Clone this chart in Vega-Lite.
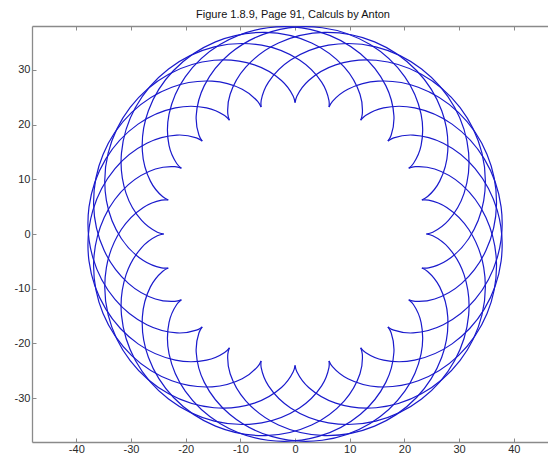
{
"$schema": "https://vega.github.io/schema/vega-lite/v6.json",
"width": 516, "height": 416,
"autosize": {"type": "none"},
"padding": {"left": 32, "top": 26, "right": 0, "bottom": 13},
"title": {"text": "Figure 1.8.9, Page 91, Calculs by Anton", "font": "Liberation Sans", "fontSize": 11, "fontWeight": "normal", "color": "#111111", "anchor": "middle", "offset": 4, "dx": 3},
"config": {"view": {"stroke": null}, "axis": {"domainColor": "#8a8a8a", "domainWidth": 1.3, "tickColor": "#8a8a8a", "tickSize": -4, "labelFont": "Liberation Sans", "labelFontSize": 11, "labelColor": "#2a2a2a", "grid": false, "labelExpr": "replace(datum.label, '\u2212', '-')"}},
"datasets": {"curve": [
{"a":0,"i":0,"x":24,"y":0},{"a":0,"i":1,"x":25.18,"y":0.334},{"a":0,"i":2,"x":28.05,"y":2.488},{"a":0,"i":3,"x":30.899,"y":7.433},{"a":0,"i":4,"x":31.738,"y":14.823},{"a":0,"i":5,"x":29.193,"y":23.1},{"a":0,"i":6,"x":23.133,"y":30.147},{"a":0,"i":7,"x":14.758,"y":34.177},{"a":0,"i":8,"x":6.103,"y":34.493},{"a":0,"i":9,"x":-0.817,"y":31.769},{"a":0,"i":10,"x":-4.857,"y":27.738},{"a":0,"i":11,"x":-6.194,"y":24.408},{"a":0,"i":12,"x":-6.212,"y":23.182},
{"a":1,"i":0,"x":23.182,"y":6.212},{"a":1,"i":1,"x":24.235,"y":6.84},{"a":1,"i":2,"x":26.45,"y":9.663},{"a":1,"i":3,"x":27.922,"y":15.177},{"a":1,"i":4,"x":26.82,"y":22.532},{"a":1,"i":5,"x":22.219,"y":29.869},{"a":1,"i":6,"x":14.542,"y":35.107},{"a":1,"i":7,"x":5.409,"y":36.832},{"a":1,"i":8,"x":-3.032,"y":34.898},{"a":1,"i":9,"x":-9.012,"y":30.475},{"a":1,"i":10,"x":-11.87,"y":25.536},{"a":1,"i":11,"x":-12.3,"y":21.974},{"a":1,"i":12,"x":-12,"y":20.785},
{"a":2,"i":0,"x":20.785,"y":12},{"a":2,"i":1,"x":21.639,"y":12.88},{"a":2,"i":2,"x":23.048,"y":16.18},{"a":2,"i":3,"x":23.042,"y":21.886},{"a":2,"i":4,"x":20.075,"y":28.706},{"a":2,"i":5,"x":13.731,"y":34.602},{"a":2,"i":6,"x":4.96,"y":37.675},{"a":2,"i":7,"x":-4.308,"y":36.977},{"a":2,"i":8,"x":-11.961,"y":32.924},{"a":2,"i":9,"x":-16.593,"y":27.104},{"a":2,"i":10,"x":-18.075,"y":21.594},{"a":2,"i":11,"x":-17.568,"y":18.041},{"a":2,"i":12,"x":-16.971,"y":16.971},
{"a":3,"i":0,"x":16.971,"y":16.971},{"a":3,"i":1,"x":17.568,"y":18.041},{"a":3,"i":2,"x":18.075,"y":21.594},{"a":3,"i":3,"x":16.593,"y":27.104},{"a":3,"i":4,"x":11.961,"y":32.924},{"a":3,"i":5,"x":4.308,"y":36.977},{"a":3,"i":6,"x":-4.96,"y":37.675},{"a":3,"i":7,"x":-13.731,"y":34.602},{"a":3,"i":8,"x":-20.075,"y":28.706},{"a":3,"i":9,"x":-23.042,"y":21.886},{"a":3,"i":10,"x":-23.048,"y":16.18},{"a":3,"i":11,"x":-21.639,"y":12.88},{"a":3,"i":12,"x":-20.785,"y":12},
{"a":4,"i":0,"x":12,"y":20.785},{"a":4,"i":1,"x":12.3,"y":21.974},{"a":4,"i":2,"x":11.87,"y":25.536},{"a":4,"i":3,"x":9.012,"y":30.475},{"a":4,"i":4,"x":3.032,"y":34.898},{"a":4,"i":5,"x":-5.409,"y":36.832},{"a":4,"i":6,"x":-14.542,"y":35.107},{"a":4,"i":7,"x":-22.219,"y":29.869},{"a":4,"i":8,"x":-26.82,"y":22.532},{"a":4,"i":9,"x":-27.922,"y":15.177},{"a":4,"i":10,"x":-26.45,"y":9.663},{"a":4,"i":11,"x":-24.235,"y":6.84},{"a":4,"i":12,"x":-23.182,"y":6.212},
{"a":5,"i":0,"x":6.212,"y":23.182},{"a":5,"i":1,"x":6.194,"y":24.408},{"a":5,"i":2,"x":4.857,"y":27.738},{"a":5,"i":3,"x":0.817,"y":31.769},{"a":5,"i":4,"x":-6.103,"y":34.493},{"a":5,"i":5,"x":-14.758,"y":34.177},{"a":5,"i":6,"x":-23.133,"y":30.147},{"a":5,"i":7,"x":-29.193,"y":23.1},{"a":5,"i":8,"x":-31.738,"y":14.823},{"a":5,"i":9,"x":-30.899,"y":7.433},{"a":5,"i":10,"x":-28.05,"y":2.488},{"a":5,"i":11,"x":-25.18,"y":0.334},{"a":5,"i":12,"x":-24,"y":0},
{"a":6,"i":0,"x":0,"y":24},{"a":6,"i":1,"x":-0.334,"y":25.18},{"a":6,"i":2,"x":-2.488,"y":28.05},{"a":6,"i":3,"x":-7.433,"y":30.899},{"a":6,"i":4,"x":-14.823,"y":31.738},{"a":6,"i":5,"x":-23.1,"y":29.193},{"a":6,"i":6,"x":-30.147,"y":23.133},{"a":6,"i":7,"x":-34.177,"y":14.758},{"a":6,"i":8,"x":-34.493,"y":6.103},{"a":6,"i":9,"x":-31.769,"y":-0.817},{"a":6,"i":10,"x":-27.738,"y":-4.857},{"a":6,"i":11,"x":-24.408,"y":-6.194},{"a":6,"i":12,"x":-23.182,"y":-6.212},
{"a":7,"i":0,"x":-6.212,"y":23.182},{"a":7,"i":1,"x":-6.84,"y":24.235},{"a":7,"i":2,"x":-9.663,"y":26.45},{"a":7,"i":3,"x":-15.177,"y":27.922},{"a":7,"i":4,"x":-22.532,"y":26.82},{"a":7,"i":5,"x":-29.869,"y":22.219},{"a":7,"i":6,"x":-35.107,"y":14.542},{"a":7,"i":7,"x":-36.832,"y":5.409},{"a":7,"i":8,"x":-34.898,"y":-3.032},{"a":7,"i":9,"x":-30.475,"y":-9.012},{"a":7,"i":10,"x":-25.536,"y":-11.87},{"a":7,"i":11,"x":-21.974,"y":-12.3},{"a":7,"i":12,"x":-20.785,"y":-12},
{"a":8,"i":0,"x":-12,"y":20.785},{"a":8,"i":1,"x":-12.88,"y":21.639},{"a":8,"i":2,"x":-16.18,"y":23.048},{"a":8,"i":3,"x":-21.886,"y":23.042},{"a":8,"i":4,"x":-28.706,"y":20.075},{"a":8,"i":5,"x":-34.602,"y":13.731},{"a":8,"i":6,"x":-37.675,"y":4.96},{"a":8,"i":7,"x":-36.977,"y":-4.308},{"a":8,"i":8,"x":-32.924,"y":-11.961},{"a":8,"i":9,"x":-27.104,"y":-16.593},{"a":8,"i":10,"x":-21.594,"y":-18.075},{"a":8,"i":11,"x":-18.041,"y":-17.568},{"a":8,"i":12,"x":-16.971,"y":-16.971},
{"a":9,"i":0,"x":-16.971,"y":16.971},{"a":9,"i":1,"x":-18.041,"y":17.568},{"a":9,"i":2,"x":-21.594,"y":18.075},{"a":9,"i":3,"x":-27.104,"y":16.593},{"a":9,"i":4,"x":-32.924,"y":11.961},{"a":9,"i":5,"x":-36.977,"y":4.308},{"a":9,"i":6,"x":-37.675,"y":-4.96},{"a":9,"i":7,"x":-34.602,"y":-13.731},{"a":9,"i":8,"x":-28.706,"y":-20.075},{"a":9,"i":9,"x":-21.886,"y":-23.042},{"a":9,"i":10,"x":-16.18,"y":-23.048},{"a":9,"i":11,"x":-12.88,"y":-21.639},{"a":9,"i":12,"x":-12,"y":-20.785},
{"a":10,"i":0,"x":-20.785,"y":12},{"a":10,"i":1,"x":-21.974,"y":12.3},{"a":10,"i":2,"x":-25.536,"y":11.87},{"a":10,"i":3,"x":-30.475,"y":9.012},{"a":10,"i":4,"x":-34.898,"y":3.032},{"a":10,"i":5,"x":-36.832,"y":-5.409},{"a":10,"i":6,"x":-35.107,"y":-14.542},{"a":10,"i":7,"x":-29.869,"y":-22.219},{"a":10,"i":8,"x":-22.532,"y":-26.82},{"a":10,"i":9,"x":-15.177,"y":-27.922},{"a":10,"i":10,"x":-9.663,"y":-26.45},{"a":10,"i":11,"x":-6.84,"y":-24.235},{"a":10,"i":12,"x":-6.212,"y":-23.182},
{"a":11,"i":0,"x":-23.182,"y":6.212},{"a":11,"i":1,"x":-24.408,"y":6.194},{"a":11,"i":2,"x":-27.738,"y":4.857},{"a":11,"i":3,"x":-31.769,"y":0.817},{"a":11,"i":4,"x":-34.493,"y":-6.103},{"a":11,"i":5,"x":-34.177,"y":-14.758},{"a":11,"i":6,"x":-30.147,"y":-23.133},{"a":11,"i":7,"x":-23.1,"y":-29.193},{"a":11,"i":8,"x":-14.823,"y":-31.738},{"a":11,"i":9,"x":-7.433,"y":-30.899},{"a":11,"i":10,"x":-2.488,"y":-28.05},{"a":11,"i":11,"x":-0.334,"y":-25.18},{"a":11,"i":12,"x":0,"y":-24},
{"a":12,"i":0,"x":-24,"y":0},{"a":12,"i":1,"x":-25.18,"y":-0.334},{"a":12,"i":2,"x":-28.05,"y":-2.488},{"a":12,"i":3,"x":-30.899,"y":-7.433},{"a":12,"i":4,"x":-31.738,"y":-14.823},{"a":12,"i":5,"x":-29.193,"y":-23.1},{"a":12,"i":6,"x":-23.133,"y":-30.147},{"a":12,"i":7,"x":-14.758,"y":-34.177},{"a":12,"i":8,"x":-6.103,"y":-34.493},{"a":12,"i":9,"x":0.817,"y":-31.769},{"a":12,"i":10,"x":4.857,"y":-27.738},{"a":12,"i":11,"x":6.194,"y":-24.408},{"a":12,"i":12,"x":6.212,"y":-23.182},
{"a":13,"i":0,"x":-23.182,"y":-6.212},{"a":13,"i":1,"x":-24.235,"y":-6.84},{"a":13,"i":2,"x":-26.45,"y":-9.663},{"a":13,"i":3,"x":-27.922,"y":-15.177},{"a":13,"i":4,"x":-26.82,"y":-22.532},{"a":13,"i":5,"x":-22.219,"y":-29.869},{"a":13,"i":6,"x":-14.542,"y":-35.107},{"a":13,"i":7,"x":-5.409,"y":-36.832},{"a":13,"i":8,"x":3.032,"y":-34.898},{"a":13,"i":9,"x":9.012,"y":-30.475},{"a":13,"i":10,"x":11.87,"y":-25.536},{"a":13,"i":11,"x":12.3,"y":-21.974},{"a":13,"i":12,"x":12,"y":-20.785},
{"a":14,"i":0,"x":-20.785,"y":-12},{"a":14,"i":1,"x":-21.639,"y":-12.88},{"a":14,"i":2,"x":-23.048,"y":-16.18},{"a":14,"i":3,"x":-23.042,"y":-21.886},{"a":14,"i":4,"x":-20.075,"y":-28.706},{"a":14,"i":5,"x":-13.731,"y":-34.602},{"a":14,"i":6,"x":-4.96,"y":-37.675},{"a":14,"i":7,"x":4.308,"y":-36.977},{"a":14,"i":8,"x":11.961,"y":-32.924},{"a":14,"i":9,"x":16.593,"y":-27.104},{"a":14,"i":10,"x":18.075,"y":-21.594},{"a":14,"i":11,"x":17.568,"y":-18.041},{"a":14,"i":12,"x":16.971,"y":-16.971},
{"a":15,"i":0,"x":-16.971,"y":-16.971},{"a":15,"i":1,"x":-17.568,"y":-18.041},{"a":15,"i":2,"x":-18.075,"y":-21.594},{"a":15,"i":3,"x":-16.593,"y":-27.104},{"a":15,"i":4,"x":-11.961,"y":-32.924},{"a":15,"i":5,"x":-4.308,"y":-36.977},{"a":15,"i":6,"x":4.96,"y":-37.675},{"a":15,"i":7,"x":13.731,"y":-34.602},{"a":15,"i":8,"x":20.075,"y":-28.706},{"a":15,"i":9,"x":23.042,"y":-21.886},{"a":15,"i":10,"x":23.048,"y":-16.18},{"a":15,"i":11,"x":21.639,"y":-12.88},{"a":15,"i":12,"x":20.785,"y":-12},
{"a":16,"i":0,"x":-12,"y":-20.785},{"a":16,"i":1,"x":-12.3,"y":-21.974},{"a":16,"i":2,"x":-11.87,"y":-25.536},{"a":16,"i":3,"x":-9.012,"y":-30.475},{"a":16,"i":4,"x":-3.032,"y":-34.898},{"a":16,"i":5,"x":5.409,"y":-36.832},{"a":16,"i":6,"x":14.542,"y":-35.107},{"a":16,"i":7,"x":22.219,"y":-29.869},{"a":16,"i":8,"x":26.82,"y":-22.532},{"a":16,"i":9,"x":27.922,"y":-15.177},{"a":16,"i":10,"x":26.45,"y":-9.663},{"a":16,"i":11,"x":24.235,"y":-6.84},{"a":16,"i":12,"x":23.182,"y":-6.212},
{"a":17,"i":0,"x":-6.212,"y":-23.182},{"a":17,"i":1,"x":-6.194,"y":-24.408},{"a":17,"i":2,"x":-4.857,"y":-27.738},{"a":17,"i":3,"x":-0.817,"y":-31.769},{"a":17,"i":4,"x":6.103,"y":-34.493},{"a":17,"i":5,"x":14.758,"y":-34.177},{"a":17,"i":6,"x":23.133,"y":-30.147},{"a":17,"i":7,"x":29.193,"y":-23.1},{"a":17,"i":8,"x":31.738,"y":-14.823},{"a":17,"i":9,"x":30.899,"y":-7.433},{"a":17,"i":10,"x":28.05,"y":-2.488},{"a":17,"i":11,"x":25.18,"y":-0.334},{"a":17,"i":12,"x":24,"y":0},
{"a":18,"i":0,"x":0,"y":-24},{"a":18,"i":1,"x":0.334,"y":-25.18},{"a":18,"i":2,"x":2.488,"y":-28.05},{"a":18,"i":3,"x":7.433,"y":-30.899},{"a":18,"i":4,"x":14.823,"y":-31.738},{"a":18,"i":5,"x":23.1,"y":-29.193},{"a":18,"i":6,"x":30.147,"y":-23.133},{"a":18,"i":7,"x":34.177,"y":-14.758},{"a":18,"i":8,"x":34.493,"y":-6.103},{"a":18,"i":9,"x":31.769,"y":0.817},{"a":18,"i":10,"x":27.738,"y":4.857},{"a":18,"i":11,"x":24.408,"y":6.194},{"a":18,"i":12,"x":23.182,"y":6.212},
{"a":19,"i":0,"x":6.212,"y":-23.182},{"a":19,"i":1,"x":6.84,"y":-24.235},{"a":19,"i":2,"x":9.663,"y":-26.45},{"a":19,"i":3,"x":15.177,"y":-27.922},{"a":19,"i":4,"x":22.532,"y":-26.82},{"a":19,"i":5,"x":29.869,"y":-22.219},{"a":19,"i":6,"x":35.107,"y":-14.542},{"a":19,"i":7,"x":36.832,"y":-5.409},{"a":19,"i":8,"x":34.898,"y":3.032},{"a":19,"i":9,"x":30.475,"y":9.012},{"a":19,"i":10,"x":25.536,"y":11.87},{"a":19,"i":11,"x":21.974,"y":12.3},{"a":19,"i":12,"x":20.785,"y":12},
{"a":20,"i":0,"x":12,"y":-20.785},{"a":20,"i":1,"x":12.88,"y":-21.639},{"a":20,"i":2,"x":16.18,"y":-23.048},{"a":20,"i":3,"x":21.886,"y":-23.042},{"a":20,"i":4,"x":28.706,"y":-20.075},{"a":20,"i":5,"x":34.602,"y":-13.731},{"a":20,"i":6,"x":37.675,"y":-4.96},{"a":20,"i":7,"x":36.977,"y":4.308},{"a":20,"i":8,"x":32.924,"y":11.961},{"a":20,"i":9,"x":27.104,"y":16.593},{"a":20,"i":10,"x":21.594,"y":18.075},{"a":20,"i":11,"x":18.041,"y":17.568},{"a":20,"i":12,"x":16.971,"y":16.971},
{"a":21,"i":0,"x":16.971,"y":-16.971},{"a":21,"i":1,"x":18.041,"y":-17.568},{"a":21,"i":2,"x":21.594,"y":-18.075},{"a":21,"i":3,"x":27.104,"y":-16.593},{"a":21,"i":4,"x":32.924,"y":-11.961},{"a":21,"i":5,"x":36.977,"y":-4.308},{"a":21,"i":6,"x":37.675,"y":4.96},{"a":21,"i":7,"x":34.602,"y":13.731},{"a":21,"i":8,"x":28.706,"y":20.075},{"a":21,"i":9,"x":21.886,"y":23.042},{"a":21,"i":10,"x":16.18,"y":23.048},{"a":21,"i":11,"x":12.88,"y":21.639},{"a":21,"i":12,"x":12,"y":20.785},
{"a":22,"i":0,"x":20.785,"y":-12},{"a":22,"i":1,"x":21.974,"y":-12.3},{"a":22,"i":2,"x":25.536,"y":-11.87},{"a":22,"i":3,"x":30.475,"y":-9.012},{"a":22,"i":4,"x":34.898,"y":-3.032},{"a":22,"i":5,"x":36.832,"y":5.409},{"a":22,"i":6,"x":35.107,"y":14.542},{"a":22,"i":7,"x":29.869,"y":22.219},{"a":22,"i":8,"x":22.532,"y":26.82},{"a":22,"i":9,"x":15.177,"y":27.922},{"a":22,"i":10,"x":9.663,"y":26.45},{"a":22,"i":11,"x":6.84,"y":24.235},{"a":22,"i":12,"x":6.212,"y":23.182},
{"a":23,"i":0,"x":23.182,"y":-6.212},{"a":23,"i":1,"x":24.408,"y":-6.194},{"a":23,"i":2,"x":27.738,"y":-4.857},{"a":23,"i":3,"x":31.769,"y":-0.817},{"a":23,"i":4,"x":34.493,"y":6.103},{"a":23,"i":5,"x":34.177,"y":14.758},{"a":23,"i":6,"x":30.147,"y":23.133},{"a":23,"i":7,"x":23.1,"y":29.193},{"a":23,"i":8,"x":14.823,"y":31.738},{"a":23,"i":9,"x":7.433,"y":30.899},{"a":23,"i":10,"x":2.488,"y":28.05},{"a":23,"i":11,"x":0.334,"y":25.18},{"a":23,"i":12,"x":0,"y":24}
]},
"data": {"name": "curve"},
"layer": [
 {"mark": {"type": "line", "interpolate": "catmull-rom", "color": "#1a1acc", "strokeWidth": 1.2},
  "encoding": {
   "x": {"field": "x", "type": "quantitative", "scale": {"domain": [-48.1, 46.25], "nice": false, "zero": false}, "axis": {"title": null, "orient": "bottom", "values": [-40,-30,-20,-10,0,10,20,30,40], "labelPadding": 5}},
   "y": {"field": "y", "type": "quantitative", "scale": {"domain": [-38, 38], "nice": false, "zero": false}, "axis": {"title": null, "orient": "left", "values": [-30,-20,-10,0,10,20,30], "labelPadding": 6}},
   "detail": {"field": "a", "type": "nominal"},
   "order": {"field": "i", "type": "quantitative"}
  }},
 {"mark": {"type": "line", "opacity": 0},
  "encoding": {
   "x": {"field": "x", "type": "quantitative", "axis": {"title": null, "orient": "top", "labels": false, "values": [-40,-30,-20,-10,0,10,20,30,40]}},
   "y": {"field": "y", "type": "quantitative", "axis": {"title": null, "orient": "left", "values": [-30,-20,-10,0,10,20,30], "labelPadding": 6}},
   "detail": {"field": "a", "type": "nominal"},
   "order": {"field": "i", "type": "quantitative"}
  }}
],
"resolve": {"axis": {"x": "independent"}}
}
